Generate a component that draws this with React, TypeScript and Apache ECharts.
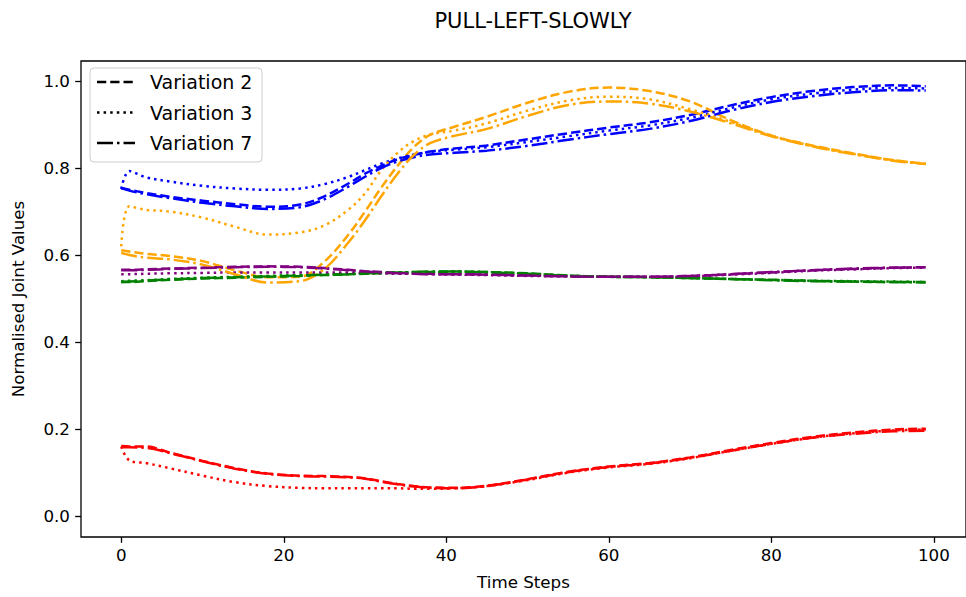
import React, { useEffect, useRef } from "react";
import * as echarts from "echarts";

const TITLE = "PULL-LEFT-SLOWLY";
const X_NAME = "Time Steps";
const Y_NAME = "Normalised Joint Values";

const timeSteps = [0, 1, 3, 6, 10, 14, 18, 22, 25, 28, 30, 32, 34, 36, 38, 41, 45, 50, 55, 60, 65, 70, 75, 80, 85, 90, 95, 99];

const xTicks = [0, 20, 40, 60, 80, 100];
const yTicks = [0, 0.2, 0.4, 0.6, 0.8, 1.0];

const variations = ["Variation 2", "Variation 3", "Variation 7"];

const blueV2 = [0.754, 0.750, 0.743, 0.734, 0.725, 0.717, 0.711, 0.716, 0.735, 0.765, 0.787, 0.805, 0.820, 0.830, 0.838, 0.845, 0.852, 0.866, 0.880, 0.893, 0.905, 0.922, 0.944, 0.963, 0.977, 0.986, 0.990, 0.988];
const blueV3 = [0.752, 0.793, 0.779, 0.769, 0.759, 0.753, 0.750, 0.753, 0.763, 0.780, 0.795, 0.810, 0.822, 0.831, 0.837, 0.842, 0.848, 0.860, 0.873, 0.886, 0.898, 0.915, 0.938, 0.958, 0.971, 0.980, 0.984, 0.983];
const blueV7 = [0.754, 0.748, 0.740, 0.731, 0.720, 0.712, 0.706, 0.710, 0.728, 0.758, 0.780, 0.800, 0.815, 0.825, 0.831, 0.835, 0.840, 0.851, 0.865, 0.878, 0.890, 0.908, 0.932, 0.952, 0.965, 0.974, 0.979, 0.978];

const orangeV2 = [0.611, 0.608, 0.603, 0.598, 0.586, 0.565, 0.549, 0.550, 0.585, 0.648, 0.700, 0.755, 0.805, 0.848, 0.876, 0.895, 0.918, 0.950, 0.975, 0.985, 0.977, 0.953, 0.910, 0.875, 0.852, 0.834, 0.818, 0.810];
const orangeV3 = [0.620, 0.712, 0.704, 0.700, 0.686, 0.665, 0.647, 0.652, 0.668, 0.705, 0.742, 0.795, 0.835, 0.862, 0.877, 0.886, 0.903, 0.932, 0.955, 0.964, 0.958, 0.935, 0.906, 0.874, 0.851, 0.833, 0.818, 0.810];
const orangeV7 = [0.605, 0.600, 0.594, 0.590, 0.578, 0.556, 0.537, 0.540, 0.568, 0.630, 0.680, 0.735, 0.787, 0.830, 0.857, 0.874, 0.890, 0.920, 0.945, 0.953, 0.948, 0.930, 0.903, 0.873, 0.850, 0.832, 0.817, 0.809];

const greenV2 = [0.538, 0.538, 0.540, 0.543, 0.546, 0.548, 0.550, 0.552, 0.554, 0.556, 0.557, 0.558, 0.559, 0.560, 0.561, 0.562, 0.561, 0.558, 0.553, 0.550, 0.549, 0.547, 0.545, 0.543, 0.541, 0.539, 0.538, 0.538];
const greenV3 = [0.540, 0.541, 0.542, 0.545, 0.548, 0.550, 0.552, 0.554, 0.555, 0.557, 0.558, 0.559, 0.560, 0.561, 0.561, 0.562, 0.561, 0.557, 0.553, 0.550, 0.549, 0.547, 0.545, 0.543, 0.541, 0.540, 0.539, 0.538];
const greenV7 = [0.538, 0.539, 0.541, 0.544, 0.547, 0.549, 0.551, 0.553, 0.555, 0.556, 0.558, 0.559, 0.560, 0.561, 0.562, 0.562, 0.560, 0.557, 0.552, 0.550, 0.549, 0.547, 0.545, 0.542, 0.540, 0.539, 0.538, 0.537];

const redV2 = [0.161, 0.160, 0.160, 0.146, 0.127, 0.110, 0.098, 0.093, 0.092, 0.090, 0.087, 0.080, 0.074, 0.069, 0.066, 0.065, 0.070, 0.085, 0.102, 0.114, 0.122, 0.135, 0.152, 0.168, 0.182, 0.192, 0.199, 0.201];
const redV3 = [0.160, 0.128, 0.122, 0.110, 0.093, 0.078, 0.069, 0.065, 0.064, 0.064, 0.064, 0.064, 0.064, 0.063, 0.063, 0.064, 0.069, 0.083, 0.100, 0.112, 0.120, 0.133, 0.150, 0.166, 0.180, 0.190, 0.197, 0.199];
const redV7 = [0.158, 0.158, 0.157, 0.145, 0.126, 0.109, 0.097, 0.092, 0.091, 0.089, 0.086, 0.079, 0.073, 0.068, 0.065, 0.064, 0.069, 0.084, 0.101, 0.113, 0.121, 0.134, 0.150, 0.166, 0.180, 0.189, 0.195, 0.196];

const purpleV2 = [0.566, 0.566, 0.567, 0.569, 0.571, 0.573, 0.574, 0.573, 0.570, 0.566, 0.563, 0.561, 0.559, 0.558, 0.557, 0.556, 0.555, 0.553, 0.551, 0.550, 0.550, 0.552, 0.556, 0.560, 0.565, 0.568, 0.571, 0.572];
const purpleV3 = [0.556, 0.556, 0.557, 0.558, 0.559, 0.560, 0.560, 0.560, 0.560, 0.560, 0.559, 0.558, 0.557, 0.557, 0.556, 0.555, 0.554, 0.552, 0.551, 0.550, 0.550, 0.551, 0.555, 0.559, 0.564, 0.567, 0.570, 0.571];
const purpleV7 = [0.565, 0.565, 0.566, 0.568, 0.570, 0.572, 0.573, 0.572, 0.569, 0.565, 0.562, 0.560, 0.558, 0.557, 0.556, 0.556, 0.555, 0.553, 0.551, 0.550, 0.550, 0.552, 0.556, 0.561, 0.565, 0.569, 0.571, 0.572];

const joints = [
  { color: "#0000ff", values: [blueV2, blueV3, blueV7] },
  { color: "#ffa500", values: [orangeV2, orangeV3, orangeV7] },
  { color: "#008000", values: [greenV2, greenV3, greenV7] },
  { color: "#ff0000", values: [redV2, redV3, redV7] },
  { color: "#800080", values: [purpleV2, purpleV3, purpleV7] },
];

// matplotlib dash patterns (lw 1.5 @ 120 dpi)
const dashPatterns: number[][] = [
  [9.25, 4],
  [2.5, 4.1],
  [16, 4, 2.5, 4],
];

const FONT = "DejaVu Sans";

export default function App() {
  const ref = useRef<HTMLDivElement>(null);
  useEffect(() => {
    if (!ref.current) return;
    const chart = echarts.init(ref.current, undefined, { renderer: "svg" });
    const series: any[] = [];
    variations.forEach((v, vi) => {
      joints.forEach((j) => {
        series.push({
          type: "line",
          name: v,
          data: timeSteps.map((t, i) => [t, j.values[vi][i]]),
          showSymbol: false,
          symbol: "none",
          smooth: 0.35,
          lineStyle: { color: j.color, width: 2.5, type: dashPatterns[vi], cap: "butt" },
          silent: true,
        });
      });
    });

    const legendX = 90;
    const legendY = 68;
    const rowGap = 30.5;
    const legendGraphics: any[] = [
      {
        type: "rect",
        shape: { x: legendX, y: legendY, width: 172, height: 94, r: 4 },
        style: { fill: "rgba(255,255,255,0.8)", stroke: "#cccccc", lineWidth: 1 },
        z: 100,
      },
    ];
    variations.forEach((v, vi) => {
      const cy = legendY + 14 + vi * rowGap;
      legendGraphics.push({
        type: "line",
        shape: { x1: legendX + 7, y1: cy, x2: legendX + 45, y2: cy },
        style: { stroke: "#000", lineWidth: 2.5, lineDash: dashPatterns[vi] },
        z: 101,
      });
      legendGraphics.push({
        type: "text",
        x: legendX + 60,
        y: cy,
        style: { text: v, font: `19px '${FONT}'`, fill: "#000", textVerticalAlign: "middle", verticalAlign: "middle" },
        z: 101,
      });
    });

    chart.setOption({
      animation: false,
      backgroundColor: "#fff",
      title: {
        text: TITLE,
        left: 528,
        top: 5,
        textAlign: "center",
        textStyle: { fontFamily: FONT, fontSize: 21, fontWeight: "normal", color: "#000" },
      },
      grid: {
        left: 81,
        top: 61,
        width: 889,
        height: 476,
        show: true,
        borderColor: "#000",
        borderWidth: 1.3,
        backgroundColor: "transparent",
      },
      xAxis: {
        type: "value",
        min: -4.95,
        max: 103.95,
        name: X_NAME,
        nameLocation: "middle",
        nameGap: 36,
        nameTextStyle: { fontFamily: FONT, fontSize: 16.7, color: "#000" },
        axisLine: { show: false, onZero: false },
        axisTick: { show: true, length: 5.8, lineStyle: { color: "#000", width: 1.3 }, customValues: xTicks },
        axisLabel: { fontFamily: FONT, fontSize: 16.7, color: "#000", margin: 9, customValues: xTicks },
        splitLine: { show: false },
      },
      yAxis: {
        type: "value",
        min: -0.048,
        max: 1.046,
        name: Y_NAME,
        nameLocation: "middle",
        nameGap: 55,
        nameTextStyle: { fontFamily: FONT, fontSize: 16.7, color: "#000" },
        axisLine: { show: false, onZero: false },
        axisTick: { show: true, length: 5.8, lineStyle: { color: "#000", width: 1.3 }, customValues: yTicks },
        axisLabel: {
          fontFamily: FONT,
          fontSize: 16.7,
          color: "#000",
          margin: 11,
          customValues: yTicks,
          formatter: (v: number) => v.toFixed(1),
        },
        splitLine: { show: false },
      },
      series,
      graphic: legendGraphics,
    });
    return () => chart.dispose();
  }, []);
  return <div ref={ref} style={{ width: 966, height: 597, position: "absolute", left: 0, top: 0 }} />;
}
